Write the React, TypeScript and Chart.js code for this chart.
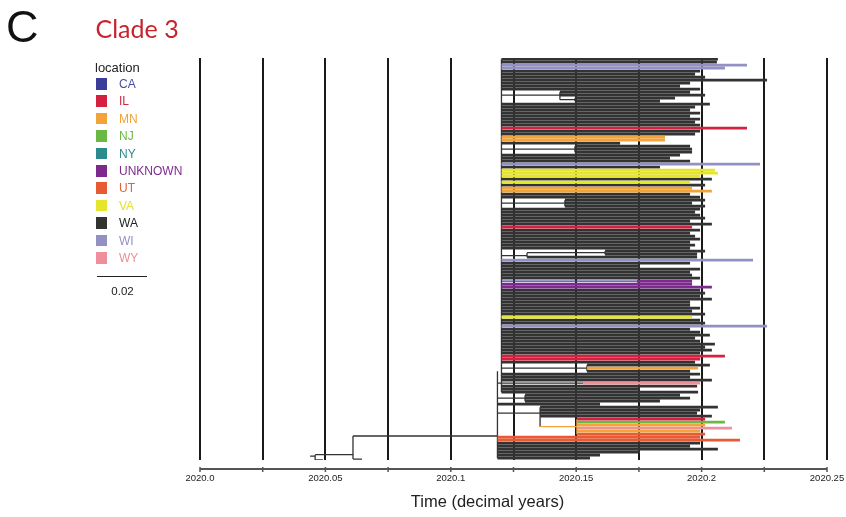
import React, { useEffect, useRef } from 'react';
import { Chart, registerables } from 'chart.js';

Chart.register(...registerables);

// ---- legend / locations ----
const locations = ['CA', 'IL', 'MN', 'NJ', 'NY', 'UNKNOWN', 'UT', 'VA', 'WA', 'WI', 'WY'];
const locationColors = ['#3b3d9a', '#d3213f', '#f2a33a', '#6ab945', '#2b8a8c', '#7d2a8d', '#e85a34', '#e5e52e', '#333333', '#9391c4', '#ef8f9c'];
const locationTextColors = ['#4a4ca4', '#d3263f', '#f0a23a', '#6ab945', '#2f8a8c', '#7d2a8d', '#e0603a', '#e2e232', '#222222', '#9391c4', '#ec8e9a'];

// ---- time axis ----
const xMin = 2020.0;
const xMax = 2020.25;
const xTickValues = [2020.0, 2020.025, 2020.05, 2020.075, 2020.1, 2020.125, 2020.15, 2020.175, 2020.2, 2020.225, 2020.25];
const xTickLabels = ['2020.0', '', '2020.05', '', '2020.1', '', '2020.15', '', '2020.2', '', '2020.25'];

// ---- tips (one per row, top to bottom) ----
const tipStart = [
  2020.1202, 2020.1202, 2020.1202, 2020.1202, 2020.1202, 2020.1202, 2020.1202, 2020.1202, 2020.1202, 2020.1202,
  2020.1202, 2020.1435, 2020.1435, 2020.1495, 2020.1495, 2020.1202, 2020.1202, 2020.1202, 2020.1202, 2020.1202,
  2020.1202, 2020.1202, 2020.1202, 2020.1202, 2020.1202, 2020.1202, 2020.1202, 2020.1202, 2020.1202, 2020.1495,
  2020.1495, 2020.1495, 2020.1202, 2020.1202, 2020.1202, 2020.1202, 2020.1202, 2020.1202, 2020.1202, 2020.1202,
  2020.1202, 2020.1202, 2020.1202, 2020.1202, 2020.1202, 2020.1202, 2020.1202, 2020.1455, 2020.1455, 2020.1455,
  2020.1202, 2020.1202, 2020.1202, 2020.1202, 2020.1202, 2020.1202, 2020.1202, 2020.1202, 2020.1202, 2020.1202,
  2020.1202, 2020.1202, 2020.1202, 2020.1202, 2020.1615, 2020.1615, 2020.1304, 2020.1202, 2020.1202, 2020.1202,
  2020.1202, 2020.1202, 2020.1202, 2020.1202, 2020.1742, 2020.1202, 2020.1202, 2020.1202, 2020.1202, 2020.1202,
  2020.1202, 2020.1202, 2020.1202, 2020.1202, 2020.1202, 2020.1202, 2020.1202, 2020.1202, 2020.1202, 2020.1202,
  2020.1202, 2020.1202, 2020.1202, 2020.1202, 2020.1202, 2020.1202, 2020.1202, 2020.1202, 2020.1202, 2020.1202,
  2020.1202, 2020.1202, 2020.1543, 2020.1543, 2020.1543, 2020.1202, 2020.1202, 2020.1202, 2020.1527, 2020.1202,
  2020.1202, 2020.1202, 2020.1296, 2020.1296, 2020.1296, 2020.1186, 2020.1356, 2020.1356, 2020.1356, 2020.1356,
  2020.1503, 2020.1503, 2020.1503, 2020.1503, 2020.1503, 2020.1503, 2020.1186, 2020.1186, 2020.1186, 2020.1186,
  2020.1186, 2020.1186, 2020.1186, 2020.1186,
];

const tipEnd = [
  2020.2065, 2020.2061, 2020.2181, 2020.2093, 2020.1994, 2020.1974, 2020.2014, 2020.2261, 2020.1954, 2020.1914,
  2020.1994, 2020.1954, 2020.2014, 2020.1894, 2020.1834, 2020.2033, 2020.1974, 2020.1954, 2020.1994, 2020.1954,
  2020.1994, 2020.1974, 2020.1994, 2020.2181, 2020.1994, 2020.1974, 2020.1854, 2020.1854, 2020.1675, 2020.1954,
  2020.1962, 2020.1962, 2020.1914, 2020.1874, 2020.1954, 2020.2233, 2020.1834, 2020.2053, 2020.2065, 2020.1994,
  2020.2041, 2020.1954, 2020.2014, 2020.1962, 2020.2041, 2020.1954, 2020.1994, 2020.2014, 2020.1962, 2020.2014,
  2020.1994, 2020.1974, 2020.1994, 2020.2014, 2020.1954, 2020.2041, 2020.1962, 2020.1994, 2020.1954, 2020.1974,
  2020.1994, 2020.1954, 2020.1974, 2020.1954, 2020.2014, 2020.1982, 2020.1982, 2020.2205, 2020.1954, 2020.1754,
  2020.1994, 2020.1954, 2020.1962, 2020.1994, 2020.1962, 2020.1962, 2020.2041, 2020.1994, 2020.2014, 2020.1994,
  2020.2041, 2020.1954, 2020.1954, 2020.1994, 2020.1962, 2020.2014, 2020.1962, 2020.1994, 2020.2014, 2020.2261,
  2020.1954, 2020.1994, 2020.2033, 2020.1974, 2020.1994, 2020.2053, 2020.2014, 2020.2041, 2020.1994, 2020.2093,
  2020.1994, 2020.1974, 2020.2033, 2020.1986, 2020.1954, 2020.1994, 2020.1954, 2020.2041, 2020.1994, 2020.1982,
  2020.1754, 2020.1986, 2020.1914, 2020.1954, 2020.1834, 2020.1595, 2020.2065, 2020.1994, 2020.1982, 2020.2041,
  2020.2014, 2020.2093, 2020.2014, 2020.2121, 2020.1994, 2020.2014, 2020.1994, 2020.2153, 2020.1994, 2020.1954,
  2020.2065, 2020.1754, 2020.1595, 2020.1555,
];

const tipLoc = [
  'WA', 'WA', 'WI', 'WI', 'WA', 'WA', 'WA', 'WA', 'WA', 'WA',
  'WA', 'WA', 'WA', 'WA', 'WA', 'WA', 'WA', 'WA', 'WA', 'WA',
  'WA', 'WA', 'WA', 'IL', 'WA', 'WA', 'MN', 'MN', 'WA', 'WA',
  'WA', 'WA', 'WA', 'WA', 'WA', 'WI', 'WA', 'VA', 'VA', 'VA',
  'WA', 'VA', 'WA', 'MN', 'MN', 'WA', 'WA', 'WA', 'WA', 'WA',
  'WA', 'WA', 'WA', 'WA', 'WA', 'WA', 'IL', 'WA', 'WA', 'WA',
  'WA', 'WA', 'WA', 'WA', 'WA', 'WA', 'WA', 'WI', 'WA', 'WA',
  'WA', 'WA', 'WA', 'WA', 'UNKNOWN', 'UNKNOWN', 'UNKNOWN', 'WA', 'WA', 'WA',
  'WA', 'WA', 'WA', 'WA', 'WA', 'WA', 'VA', 'WA', 'WA', 'WI',
  'WA', 'WA', 'WA', 'WA', 'WA', 'WA', 'WA', 'WA', 'WA', 'IL',
  'IL', 'WA', 'WA', 'MN', 'WA', 'WA', 'WA', 'WA', 'WY', 'WA',
  'WA', 'WA', 'WA', 'WA', 'WA', 'WA', 'WA', 'WA', 'WA', 'WA',
  'IL', 'NJ', 'MN', 'WY', 'MN', 'UT', 'UT', 'UT', 'WA', 'WA',
  'WA', 'WA', 'WA', 'WA',
];

// ---- internal nodes: vertical at nodeTime from nodeTop to nodeBottom, stem from nodeParent at nodeStem ----
const nodeTime = [2020.1202, 2020.1186, 2020.1435, 2020.1495, 2020.1495, 2020.1455, 2020.1615, 2020.1304, 2020.1742, 2020.1543, 2020.1527, 2020.1296, 2020.1356, 2020.1503, 2020.0610, 2020.0459];
const nodeTop = [0, 104, 11, 13, 29, 47, 64, 64.5, 74, 102, 108, 112, 116, 120, 125.6, 131.9];
const nodeBottom = [111, 133, 13.5, 14, 31, 49, 65, 66, 74, 104, 108, 114, 122.5, 125, 133.3, 133.6];
const nodeParent = [2020.1186, 2020.0610, 2020.1202, 2020.1435, 2020.1202, 2020.1202, 2020.1304, 2020.1202, 2020.1202, 2020.1202, 2020.1202, 2020.1186, 2020.1186, 2020.1356, 2020.0459, 2020.0439];
const nodeStem = [108, 125.6, 12, 13.5, 30, 48, 64.5, 65.5, 74, 103, 108, 113, 118, 122.5, 131.8, 132.3];
const nodeLoc = ['WA', 'WA', 'WA', 'WA', 'WA', 'WA', 'WA', 'WA', 'CA', 'WA', 'WA', 'WA', 'WA', 'MN', 'WA', 'WA'];

// ---- root-side short tips ----
const rootTipRow = [133.6, 133.3];
const rootTipStart = [2020.0459, 2020.0610];
const rootTipEnd = [2020.0490, 2020.0646];

type Seg = { x0: number; x1: number; y0: number; y1: number; loc: string; kind: 'tip' | 'edge' };

function buildSegments(): Seg[] {
  const segs: Seg[] = [];
  tipStart.forEach((s, i) => segs.push({ x0: s, x1: tipEnd[i], y0: i, y1: i, loc: tipLoc[i], kind: 'tip' }));
  nodeTime.forEach((t, i) => {
    segs.push({ x0: t, x1: t, y0: nodeTop[i], y1: nodeBottom[i], loc: nodeLoc[i], kind: 'edge' });
    segs.push({ x0: nodeParent[i], x1: t, y0: nodeStem[i], y1: nodeStem[i], loc: nodeLoc[i], kind: 'edge' });
  });
  rootTipRow.forEach((r, i) => segs.push({ x0: rootTipStart[i], x1: rootTipEnd[i], y0: r, y1: r, loc: 'WA', kind: 'edge' }));
  return segs;
}

const axisLinePlugin = {
  id: 'axisLine',
  afterDraw(chart: any) {
    const xs = chart.scales.x;
    const { ctx, chartArea } = chart;
    const y = chartArea.bottom + 9;
    ctx.save();
    ctx.strokeStyle = '#555';
    ctx.lineWidth = 2;
    ctx.beginPath();
    ctx.moveTo(xs.getPixelForValue(xMin), y);
    ctx.lineTo(xs.getPixelForValue(xMax), y);
    ctx.stroke();
    ctx.lineWidth = 1.5;
    xTickValues.forEach((v) => {
      const px = xs.getPixelForValue(v);
      ctx.beginPath();
      ctx.moveTo(px, y - 2);
      ctx.lineTo(px, y + 3);
      ctx.stroke();
    });
    ctx.restore();
  },
};

function TreeChart() {
  const ref = useRef<HTMLCanvasElement | null>(null);
  useEffect(() => {
    if (!ref.current) return;
    const segs = buildSegments();
    const datasets: any[] = [];
    locations.forEach((loc, li) => {
      (['tip', 'edge'] as const).forEach((kind) => {
        const chosen = segs.filter((s) => s.loc === loc && s.kind === kind);
        if (!chosen.length) return;
        const data: any[] = [];
        chosen.forEach((s) => {
          data.push({ x: s.x0, y: s.y0 }, { x: s.x1, y: s.y1 }, { x: null, y: null });
        });
        datasets.push({
          label: loc + '-' + kind,
          data,
          borderColor: locationColors[li],
          borderWidth: kind === 'tip' ? 2.8 : 1.3,
          pointRadius: 0,
          fill: false,
          spanGaps: false,
          tension: 0,
          borderCapStyle: 'butt',
          order: loc === 'WA' ? (kind === 'tip' ? 3 : 2) : (kind === 'tip' ? 1 : 0),
        });
      });
    });
    const chart = new Chart(ref.current, {
      type: 'line',
      data: { datasets },
      plugins: [axisLinePlugin],
      options: {
        animation: false,
        responsive: false,
        maintainAspectRatio: false,
        devicePixelRatio: 1,
        layout: { padding: { left: 200, right: 19, top: 58, bottom: 27 } },
        plugins: { legend: { display: false }, tooltip: { enabled: false } },
        scales: {
          x: {
            type: 'linear',
            min: xMin,
            max: xMax,
            z: 1,
            afterBuildTicks: (s: any) => {
              s.ticks = xTickValues.map((v) => ({ value: v }));
            },
            afterFit: (s: any) => {
              s.height = 30;
              s.paddingLeft = 0;
              s.paddingRight = 0;
            },
            grid: { color: '#1a1a1a', lineWidth: 2, drawTicks: false },
            border: { display: false },
            ticks: {
              autoSkip: false,
              maxRotation: 0,
              minRotation: 0,
              padding: 13,
              color: '#222',
              font: { family: 'Liberation Sans', size: 9.5 },
              callback: (_v: any, i: number) => xTickLabels[i],
            },
          },
          y: { type: 'linear', display: false, reverse: true, min: -0.4, max: 133.6 },
        },
      } as any,
    });
    return () => chart.destroy();
  }, []);
  return <canvas ref={ref} width={846} height={517} style={{ position: 'absolute', left: 0, top: 0, display: 'block' }} />;
}

export default function App() {
  const sans = '"Liberation Sans", Arial, sans-serif';
  return (
    <div style={{ position: 'fixed', left: 0, top: 0, width: 846, height: 517, background: '#fff', overflow: 'hidden' }}>
      <TreeChart />
      <div style={{ position: 'absolute', left: 6, top: 4, fontFamily: sans, fontSize: 45, lineHeight: '45px', color: '#111' }}>C</div>
      <div style={{ position: 'absolute', left: 95.5, top: 13, fontFamily: 'Lato, sans-serif', fontSize: 25, lineHeight: '30px', color: '#c8232c' }}>Clade 3</div>
      <div style={{ position: 'absolute', left: 95, top: 59.7, fontFamily: sans, fontSize: 13, lineHeight: '15px', color: '#222' }}>location</div>
      {locations.map((loc, i) => (
        <React.Fragment key={loc}>
          <div style={{ position: 'absolute', left: 95.7, top: 78 + 17.4 * i, width: 11.5, height: 11.5, background: locationColors[i] }} />
          <div style={{ position: 'absolute', left: 119, top: 76.9 + 17.4 * i, fontFamily: sans, fontSize: 12, lineHeight: '14px', color: locationTextColors[i] }}>{loc}</div>
        </React.Fragment>
      ))}
      <div style={{ position: 'absolute', left: 96.7, top: 275.8, width: 50, height: 1.6, background: '#222' }} />
      <div style={{ position: 'absolute', left: 92.5, width: 60, top: 284, textAlign: 'center', fontFamily: sans, fontSize: 11.5, lineHeight: '14px', color: '#222' }}>0.02</div>
      <div style={{ position: 'absolute', left: 387.5, width: 200, top: 491, textAlign: 'center', fontFamily: sans, fontSize: 16.5, lineHeight: '20px', color: '#222' }}>Time (decimal years)</div>
    </div>
  );
}
